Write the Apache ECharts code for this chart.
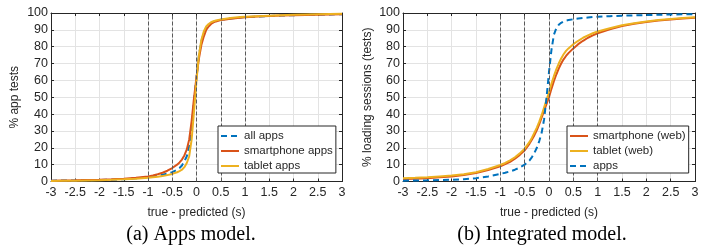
<!DOCTYPE html>
<html>
<head>
<meta charset="utf-8">
<script src="https://cdn.jsdelivr.net/npm/echarts@6/dist/echarts.min.js"></script>
<style>html,body{margin:0;padding:0;background:#fff;}#c{width:712px;height:247px;}</style>
</head>
<body>
<div id="c"></div>
<script>
// ---- data ----
var xVals = [-3, -2.75, -2.5, -2.25, -2, -1.75, -1.5, -1.25, -1, -0.9, -0.8, -0.7, -0.6, -0.5, -0.4, -0.35, -0.3, -0.25, -0.2, -0.15, -0.1, -0.05, 0, 0.05, 0.1, 0.15, 0.2, 0.25, 0.3, 0.35, 0.4, 0.5, 0.6, 0.7, 0.8, 0.9, 1, 1.25, 1.5, 1.75, 2, 2.25, 2.5, 2.75, 3];
// (a) Apps model
var allApps        = [0.5, 0.55, 0.6, 0.75, 0.9, 1.1, 1.4, 1.9, 2.5, 2.9, 3.4, 4.0, 4.7, 5.5, 7, 8, 9.5, 12, 15, 21, 32, 48, 62, 75, 83, 88, 91, 92.8, 94, 94.8, 95.3, 96, 96.4, 96.8, 97.1, 97.4, 97.6, 97.9, 98.2, 98.5, 98.7, 98.85, 99.0, 99.15, 99.3];
var smartphoneApps = [0.5, 0.6, 0.7, 0.85, 1.0, 1.3, 1.7, 2.3, 3.0, 3.6, 4.3, 5.2, 6.4, 8, 10, 11.3, 13, 15.5, 19, 25, 36, 50, 62, 73, 81, 86, 90, 92, 93.5, 94.4, 95, 95.8, 96.2, 96.6, 96.9, 97.2, 97.5, 97.9, 98.2, 98.5, 98.7, 98.85, 99.0, 99.15, 99.3];
var tabletApps     = [0.3, 0.4, 0.5, 0.65, 0.8, 1.0, 1.3, 1.7, 2.2, 2.5, 2.8, 3.2, 3.8, 4.5, 5.5, 6.2, 7, 8.5, 11, 15, 25, 42, 60, 75, 84, 89, 92, 93.5, 94.5, 95.1, 95.5, 96.2, 96.6, 97, 97.3, 97.6, 97.8, 98.1, 98.4, 98.7, 98.9, 99.05, 99.2, 99.35, 99.5];
// (b) Integrated model
var smartphoneWeb  = [1.5, 1.7, 2.0, 2.5, 3.0, 3.8, 5.0, 6.8, 9.0, 10.3, 11.7, 13.5, 15.8, 18.5, 22.5, 25, 27.5, 30.5, 34, 38, 42, 46, 50, 55, 59.5, 63.5, 67, 70, 72.5, 74.5, 76.2, 79, 81.5, 83.5, 85.3, 86.7, 88, 90.3, 92.2, 93.6, 94.7, 95.5, 96.2, 96.7, 97.2];
var tabletWeb      = [2.0, 2.2, 2.5, 3.0, 3.5, 4.3, 5.5, 7.4, 9.8, 11, 12.5, 14.4, 16.7, 19.5, 23.5, 26, 29, 32, 35.5, 39.5, 44, 48.5, 53, 58, 62.5, 66.5, 70, 73, 75.5, 77.5, 79, 81.5, 83.5, 85.3, 86.7, 88, 89, 91, 92.7, 93.9, 95, 95.8, 96.5, 97, 97.5];
var appsInt        = [0.5, 0.6, 0.7, 0.85, 1.0, 1.4, 2.0, 3.0, 4.5, 5.2, 6.0, 7.0, 8.3, 10, 12.5, 14.5, 17, 20, 24, 29, 37, 50, 65, 78, 87, 91, 93, 94.2, 95, 95.5, 95.8, 96.3, 96.7, 97, 97.3, 97.6, 97.8, 98.1, 98.4, 98.6, 98.8, 98.95, 99.1, 99.2, 99.3];
var dashX = [-1, -0.5, 0, 0.5, 1];
var xTicks = {min: -3, max: 3, interval: 0.5};
var yTicks = {min: 0, max: 100, interval: 10};
var captions = ['(a) Apps model.', '(b) Integrated model.'];
var yNames = ['% app tests', '% loading sessions (tests)'];
var xName = 'true - predicted (s)';

// ---- styling ----
var BLUE = '#0072BD', RED = '#D95319', YEL = '#EDB120';
var AX = '#262626';
var DASH = [6, 4];
var SANS = "'Liberation Sans', Arial, Helvetica, sans-serif";
function pairs(ys){ return xVals.map(function(x,i){ return [x, ys[i]]; }); }

var grids = [
  {left: 51, top: 13, width: 291, height: 168.5},
  {left: 403, top: 13, width: 292, height: 168.5}
];

var xAxes = [], yAxes = [];
[0,1].forEach(function(g){
  xAxes.push({
    type: 'value', gridIndex: g, min: xTicks.min, max: xTicks.max, interval: xTicks.interval,
    name: xName, nameLocation: 'middle', nameGap: 25,
    nameTextStyle: {color: AX, fontSize: 12, fontFamily: SANS},
    axisLine: {show: true, onZero: false, lineStyle: {color: AX, width: 1}},
    axisTick: {show: true, inside: true, length: 3, lineStyle: {color: AX}},
    axisLabel: {color: AX, fontSize: 12.5, fontFamily: SANS, margin: 5},
    splitLine: {show: true, lineStyle: {color: '#e3e3e3', width: 1}}
  });
  xAxes.push({
    type: 'value', gridIndex: g, position: 'top', min: xTicks.min, max: xTicks.max, interval: xTicks.interval,
    axisLine: {show: true, onZero: false, lineStyle: {color: AX, width: 1}},
    axisTick: {show: true, inside: true, length: 3, lineStyle: {color: AX}},
    axisLabel: {show: false}, splitLine: {show: false}
  });
  yAxes.push({
    type: 'value', gridIndex: g, min: yTicks.min, max: yTicks.max, interval: yTicks.interval,
    name: yNames[g], nameLocation: 'middle', nameGap: g === 0 ? 30 : 29,
    nameTextStyle: {color: AX, fontSize: 12, fontFamily: SANS},
    axisLine: {show: true, onZero: false, lineStyle: {color: AX, width: 1}},
    axisTick: {show: true, inside: true, length: 3, lineStyle: {color: AX}},
    axisLabel: {color: AX, fontSize: 12.5, fontFamily: SANS, margin: 3},
    splitLine: {show: true, lineStyle: {color: '#e3e3e3', width: 1}}
  });
  yAxes.push({
    type: 'value', gridIndex: g, position: 'right', min: yTicks.min, max: yTicks.max, interval: yTicks.interval,
    axisLine: {show: true, onZero: false, lineStyle: {color: AX, width: 1}},
    axisTick: {show: true, inside: true, length: 3, lineStyle: {color: AX}},
    axisLabel: {show: false}, splitLine: {show: false}
  });
});

function lineSeries(name, ys, color, g, dashed, withMark){
  var s = {
    name: name, type: 'line', xAxisIndex: g*2, yAxisIndex: g*2,
    data: pairs(ys), showSymbol: false, symbol: 'none',
    smooth: false,
    lineStyle: {color: color, width: 2, type: dashed ? DASH : 'solid'},
    itemStyle: {color: color}, z: 3, animation: false
  };
  if (withMark) {
    s.markLine = {
      silent: true, symbol: 'none', label: {show: false}, animation: false,
      lineStyle: {color: '#5a5a5a', width: 1, type: [4,2]},
      data: dashX.map(function(v){ return {xAxis: v}; })
    };
  }
  return s;
}

function legendItem(name, dashed){
  return {name: name, itemStyle: {opacity: 0}, lineStyle: {type: dashed ? DASH : 'solid', width: 2}};
}

var legendBase = {
  orient: 'vertical', itemWidth: 18, itemHeight: 10, itemGap: 3,
  padding: [4, 3, 1, 2], backgroundColor: '#fff', borderColor: AX, borderWidth: 1,
  textStyle: {color: AX, fontSize: 11.5, fontFamily: SANS, lineHeight: 12},
  itemStyle: {opacity: 0},
  selectedMode: false, z: 10
};

var option = {
  animation: false,
  grid: grids.map(function(g){ return Object.assign({show: false}, g); }),
  xAxis: xAxes,
  yAxis: yAxes,
  legend: [
    Object.assign({}, legendBase, {left: 218, top: 126, data: [legendItem('all apps', true), legendItem('smartphone apps'), legendItem('tablet apps')]}),
    Object.assign({}, legendBase, {left: 567, top: 126, data: [legendItem('smartphone (web)'), legendItem('tablet (web)'), legendItem('apps', true)]})
  ],
  series: [
    lineSeries('all apps', allApps, BLUE, 0, true, true),
    lineSeries('smartphone apps', smartphoneApps, RED, 0, false, false),
    lineSeries('tablet apps', tabletApps, YEL, 0, false, false),
    lineSeries('smartphone (web)', smartphoneWeb, RED, 1, false, true),
    lineSeries('tablet (web)', tabletWeb, YEL, 1, false, false),
    lineSeries('apps', appsInt, BLUE, 1, true, false)
  ],
  graphic: [
    {type: 'text', x: 191, y: 235, style: {text: captions[0], fill: '#000', font: "20px 'Liberation Serif', 'Times New Roman', serif", textAlign: 'center', textVerticalAlign: 'middle'}},
    {type: 'text', x: 542, y: 235, style: {text: captions[1], fill: '#000', font: "20px 'Liberation Serif', 'Times New Roman', serif", textAlign: 'center', textVerticalAlign: 'middle'}}
  ]
};

var chart = echarts.init(document.getElementById('c'), null, {renderer: 'canvas'});
chart.setOption(option);
</script>
</body>
</html>
